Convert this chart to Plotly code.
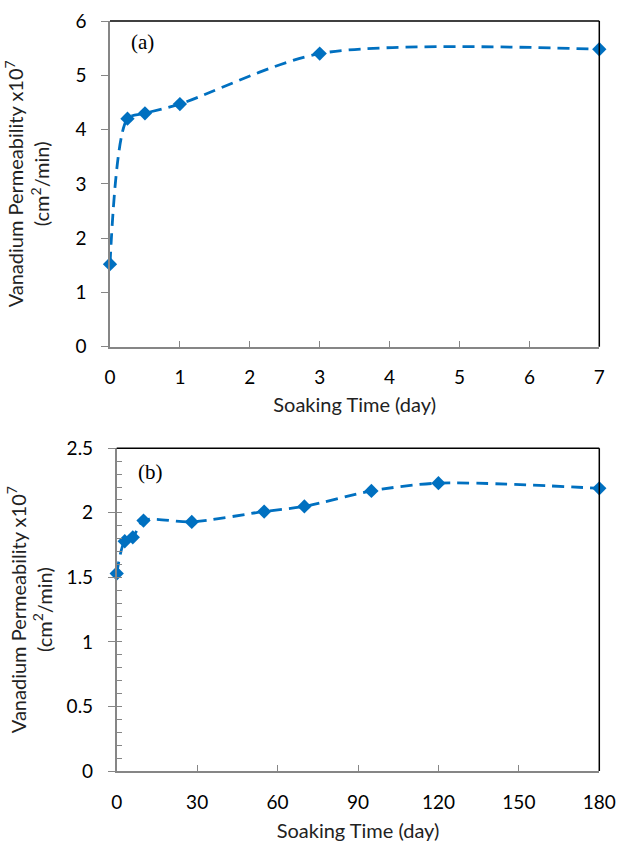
import plotly.graph_objects as go

# Panel (a): short-term soaking
days_a = [0, 0.25, 0.5, 1, 3, 7]
perm_a = [1.52, 4.20, 4.30, 4.47, 5.40, 5.48]

# Panel (b): long-term soaking
days_b = [0, 3, 6, 10, 28, 55, 70, 95, 120, 180]
perm_b = [1.53, 1.78, 1.81, 1.94, 1.93, 2.01, 2.05, 2.17, 2.23, 2.19]

xticks_a = [0, 1, 2, 3, 4, 5, 6, 7]
xticks_b = [0, 30, 60, 90, 120, 150, 180]
yticks_a = [0, 1, 2, 3, 4, 5, 6]
yticks_b = [0, 0.5, 1, 1.5, 2, 2.5]

W, H = 618, 842
BLUE = "#0070C0"
AXIS = "#868686"
FONT = "Lato"


def dx(px):
    return px / W


def dy(py):
    return 1 - py / H


fig = go.Figure()
line_style = dict(color=BLUE, width=2.8, dash="12px,7px", shape="spline", smoothing=0.8)
marker_style = dict(symbol="diamond", size=11, color=BLUE)
fig.add_trace(go.Scatter(x=days_a, y=perm_a, mode="lines+markers", line=line_style,
                         marker=marker_style, xaxis="x", yaxis="y", showlegend=False, cliponaxis=False))
fig.add_trace(go.Scatter(x=days_b, y=perm_b, mode="lines+markers", line=line_style,
                         marker=marker_style, xaxis="x2", yaxis="y2", showlegend=False, cliponaxis=False))

ytitle = "Vanadium Permeability x10<sup>7</sup><br>(cm<sup>2</sup>/min)"
common_ax = dict(showgrid=False, zeroline=False, showline=True, linecolor=AXIS, linewidth=1.5,
                 tickcolor=AXIS, automargin=False,
                 tickfont=dict(family=FONT, size=19, color="black"),
                 title_font=dict(family=FONT, size=20, color="#222222"))

fig.update_layout(
    width=W, height=H, margin=dict(l=0, r=0, t=0, b=0, autoexpand=False),
    paper_bgcolor="white", plot_bgcolor="white",
    xaxis=dict(common_ax, domain=[dx(110), dx(599.3)], range=[0, 7], tickvals=xticks_a,
               ticks="inside", ticklen=6, anchor="y", ticklabelstandoff=13,
               title=dict(text="Soaking Time (day)", standoff=11)),
    yaxis=dict(common_ax, domain=[dy(346.7), dy(21)], range=[0, 6], tickvals=yticks_a,
               ticks="outside", ticklen=7, anchor="x", ticklabelstandoff=11,
               title=dict(text=ytitle, standoff=20)),
    xaxis2=dict(common_ax, domain=[dx(116.7), dx(599.3)], range=[0, 180], tickvals=xticks_b,
                ticks="inside", ticklen=6, anchor="y2", ticklabelstandoff=13,
                title=dict(text="Soaking Time (day)", standoff=13)),
    yaxis2=dict(common_ax, domain=[dy(771), dy(448.3)], range=[0, 2.5], tickvals=yticks_b,
                ticks="outside", ticklen=7, anchor="x2", ticklabelstandoff=11,
                minor=dict(dtick=0.1, ticks="inside", ticklen=6, tickcolor=AXIS),
                title=dict(text=ytitle, standoff=9)),
)

# black top/right frame lines
for xr, yr in [("x", "y"), ("x2", "y2")]:
    fig.add_shape(type="line", xref=f"{xr} domain", yref=f"{yr} domain", x0=0, x1=1, y0=1, y1=1,
                  line=dict(color="black", width=1.5))
    fig.add_shape(type="line", xref=f"{xr} domain", yref=f"{yr} domain", x0=1, x1=1, y0=0, y1=1,
                  line=dict(color="black", width=1.5))

fig.add_annotation(text="(a)", xref="x domain", yref="y domain", x=0.066, y=0.937,
                   xanchor="center", yanchor="middle",
                   showarrow=False, font=dict(family="Liberation Serif", size=21, color="black"))
fig.add_annotation(text="(b)", xref="x2 domain", yref="y2 domain", x=0.07, y=0.928,
                   xanchor="center", yanchor="middle",
                   showarrow=False, font=dict(family="Liberation Serif", size=21, color="black"))

fig.write_html("out.html", config={"displayModeBar": False},
               post_script="document.body.style.margin='0';")
